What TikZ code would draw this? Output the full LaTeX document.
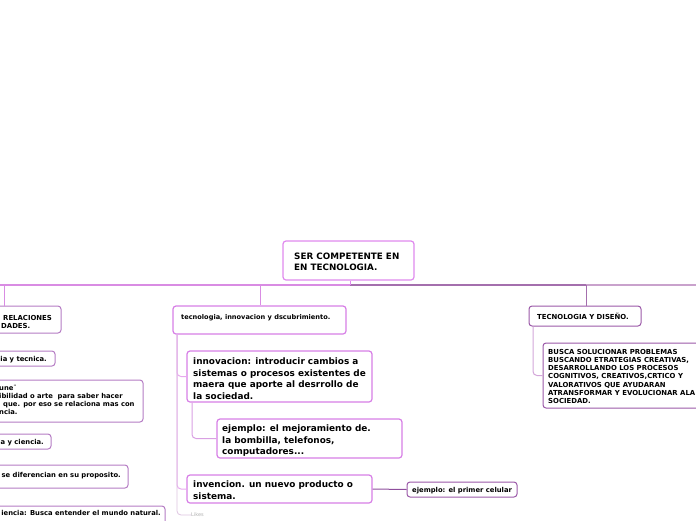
\documentclass[tikz,border=0pt]{standalone}
\usepackage{fontspec}
\setmainfont{DejaVu Sans}
\definecolor{pinkbox}{HTML}{D77FE6}
\definecolor{rootbox}{HTML}{E08AEE}
\definecolor{purpbox}{HTML}{9B59A8}
\definecolor{leftbox}{HTML}{B57CC4}
\definecolor{busA}{HTML}{D98CE3}
\definecolor{busB}{HTML}{A46FAD}
\definecolor{busC}{HTML}{C9A2CC}
\definecolor{colline}{HTML}{E7A9EE}
\definecolor{subline}{HTML}{D9A0E3}
\definecolor{celline}{HTML}{8E4E9C}
\definecolor{rline}{HTML}{D3A6D9}
\definecolor{likegray}{HTML}{B0B0B0}
\tikzset{
  bx/.style={draw, rounded corners=3pt, line width=1.2pt, inner sep=0pt, fill=white},
  txS/.style={inner sep=0pt, anchor=base west, align=left, font=\bfseries\fontsize{6.8}{8.2}\selectfont},
  txSe/.style={inner sep=0pt, anchor=base east, align=right, font=\bfseries\fontsize{6.8}{8.2}\selectfont},
  txC/.style={inner sep=0pt, anchor=base west, align=left, font=\bfseries\fontsize{6.9}{8.3}\selectfont},
  txL/.style={inner sep=0pt, anchor=base west, align=left, font=\bfseries\fontsize{8.9}{11.5}\selectfont},
  txR/.style={inner sep=0pt, anchor=base west, align=left, font=\bfseries\fontsize{8.8}{11}\selectfont},
  conn/.style={line width=1pt, rounded corners=4pt},
}
\begin{document}
\begin{tikzpicture}[x=1pt,y=-1pt]
\useasboundingbox (0,0) rectangle (696,520);
\clip (0,0) rectangle (696,520);
% bus coordinates
\coordinate (busL) at (0,285);
\coordinate (busM) at (350,285);
\coordinate (busX) at (586,285);
\coordinate (busR) at (696,285);
\coordinate (busLB) at (4,285);
\coordinate (busMB) at (260,285);
\draw[busA, line width=1.8pt] (busL) -- (busM);
\draw[busB, line width=1.8pt] (busM) -- (busX);
\draw[busC, line width=1.8pt] (busX) -- (busR);
% boxes
\node[bx, draw=rootbox, minimum width=131pt, minimum height=39pt] (root) at (348.5,260.5) {};
\node[bx, draw=pinkbox, minimum width=173pt, minimum height=28pt] (mid) at (259.5,320) {};
\node[bx, draw=pinkbox, minimum width=185pt, minimum height=51pt] (innov) at (279.5,376.5) {};
\node[bx, draw=pinkbox, minimum width=185pt, minimum height=39pt] (ejem) at (309.5,438.5) {};
\node[bx, draw=pinkbox, minimum width=185pt, minimum height=28pt] (inven) at (279.5,489) {};
\node[bx, draw=purpbox, line width=1pt, minimum width=110pt, minimum height=15pt] (celu) at (462,489.5) {};
\node[bx, draw=purpbox, line width=1pt, minimum width=112pt, minimum height=20pt] (right) at (585,316) {};
\node[bx, draw=purpbox, line width=1pt, minimum width=163pt, minimum height=65pt] (busca) at (624.5,375.5) {};
\node[bx, draw=leftbox, line width=1pt, minimum width=71pt, minimum height=27pt] (lb1) at (25.5,319.5) {};
\node[bx, draw=leftbox, line width=1pt, minimum width=65pt, minimum height=15pt] (lb2) at (22.5,358.5) {};
\node[bx, draw=leftbox, line width=1pt, minimum width=153pt, minimum height=42pt] (lb3) at (66.5,401) {};
\node[bx, draw=leftbox, line width=1pt, minimum width=61pt, minimum height=15pt] (lb4) at (20.5,441.5) {};
\node[bx, draw=leftbox, line width=1pt, minimum width=138pt, minimum height=23pt] (lb5) at (59,476.5) {};
\node[bx, draw=leftbox, line width=1pt, minimum width=175pt, minimum height=19pt] (lb6) at (77.5,515.5) {};
\node[inner sep=0pt, anchor=west, text=likegray, font=\fontsize{5}{5}\selectfont] (likes) at (191,515) {Likes};
% connectors between nodes
\draw[rootbox, line width=1pt] (root.south -| busM) -- (busM);
\draw[busA, conn] (busLB) -- (busLB |- lb1.north);
\draw[busA, conn] (busMB) -- (busMB |- mid.north);
\draw[busB, conn] (busX) -- (busX |- right.north);
\coordinate (midv) at (177,334.6);
\draw[colline, conn] (midv) |- (innov.west);
\draw[colline, conn] (midv) |- (inven.west);
\draw[colline!70!gray!60, line width=0.8pt, rounded corners=4pt] (midv) |- (likes.west);
\coordinate (innv) at (192,402.6);
\draw[subline, conn] (innv) |- (ejem.west);
\draw[celline, line width=1pt] (inven.east) -- (celu.west);
\coordinate (rv) at (533,326.6);
\draw[rline, conn] (rv) |- (busca.west);
% texts (multi-line: anchor at last baseline)
\node[txR] (roott) at (294,270.5) {SER COMPETENTE EN\\EN TECNOLOGIA.};
\node[txS, font=\bfseries\fontsize{6.6}{8}\selectfont] (midt) at (181,319.5) {tecnologia, innovacion y dscubrimiento.};
\node[txL] (innovt) at (193,399) {innovacion: introducir cambios a\\sistemas o procesos existentes de\\maera que aporte al desrrollo de\\la sociedad.};
\node[txL] (ejemt) at (222,454.5) {ejemplo: el mejoramiento de.\\la bombilla, telefonos,\\computadores...};
\node[txL] (invent) at (193,499) {invencion. un nuevo producto o\\sistema.};
\node[txS] (celut) at (412,492) {ejemplo: el primer celular};
\node[txC] (rightt) at (537,319) {TECNOLOGIA Y DISEÑO.};
\node[txC] (buscat) at (548,403.8) {BUSCA SOLUCIONAR PROBLEMAS\\BUSCANDO ETRATEGIAS CREATIVAS,\\DESARROLLANDO LOS PROCESOS\\COGNITIVOS, CREATIVOS,CRTICO Y\\VALORATIVOS QUE AYUDARAN\\ATRANSFORMAR Y EVOLUCIONAR ALA\\SOCIEDAD.};
\node[txC, font=\bfseries\fontsize{6.9}{8}\selectfont] (lb1t) at (1,328) {\hspace{2pt}RELACIONES\\DADES.};
\node[txSe] (lb2t) at (47,361.5) {gia y tecnica.};
\node[txS, font=\bfseries\fontsize{6.8}{8}\selectfont] (lb3t) at (-1,414.5) {une¨\\ibilidad o arte~ para saber hacer\\\hspace{4pt}que. por eso se relaciona mas con\\ncia.};
\node[txSe] (lb4t) at (44,444.5) {ia y ciencia.};
\node[txSe] (lb5t) at (121,477) {s se diferencian en su proposito.};
\node[txSe] (lb6t) at (161,515) {iencia: Busca entender el mundo natural.};
\end{tikzpicture}
\end{document}
